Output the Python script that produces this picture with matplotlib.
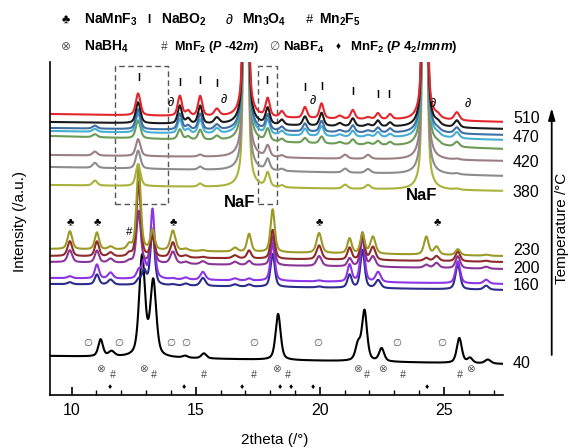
import numpy as np
import matplotlib
matplotlib.use("Agg")
import matplotlib.pyplot as plt
from matplotlib.patches import Rectangle
from matplotlib.ticker import MultipleLocator

plt.rcParams['font.family'] = ['Liberation Sans', 'DejaVu Sans']
plt.rcParams['mathtext.fontset'] = 'custom'
plt.rcParams['mathtext.rm'] = 'Liberation Sans'
plt.rcParams['mathtext.bf'] = 'Liberation Sans:bold'
plt.rcParams['mathtext.it'] = 'Liberation Sans:italic:bold'

# ---- in-situ XRD data (peak tables, offsets in plot units) ----
two_theta_range = (9.13, 27.38)

# high temperature group
hi_temps = [510, 490, 470, 460, 450, 420, 400, 380]
hi_colors = ['#e3262b', '#1a1a1a', '#3f6fa3', '#46aed3', '#6b9b55', '#9c7f85', '#8c8c8c', '#a9b23a']
hi_base_left = [281, 273, 267, 264, 259, 240, 228, 210]
hi_base_right = [273, 266, 260, 255, 246, 234, 219, 204]
hi_pos = [10.94, 12.68, 14.36, 14.69, 15.18, 15.85, 17.02, 17.90, 18.47, 19.40,
          20.07, 20.80, 21.02, 21.33, 21.94, 22.34, 22.83, 24.23, 24.75, 25.52]
hi_wid = [0.11, 0.11, 0.10, 0.10, 0.10, 0.12, 0.08, 0.10, 0.10, 0.10,
          0.10, 0.12, 0.12, 0.10, 0.12, 0.10, 0.10, 0.08, 0.12, 0.12]
hi_heights = [
    [0, 22, 20, 5, 20, 7, 500, 18, 6, 11, 15, 3, 0, 9, 2, 6, 5, 500, 3, 8],
    [0, 21, 18, 5, 18, 6, 500, 16, 5, 9, 13, 3, 0, 8, 2, 6, 4, 500, 3, 7],
    [3, 20, 16, 4, 16, 5, 500, 15, 4, 8, 11, 2, 0, 7, 2, 5, 4, 500, 2, 6],
    [3, 19, 14, 4, 14, 5, 500, 14, 4, 7, 10, 2, 0, 6, 2, 5, 3, 500, 2, 6],
    [3, 18, 10, 3, 10, 4, 500, 12, 3, 5, 7, 2, 0, 5, 2, 4, 3, 500, 2, 5],
    [4, 17, 0, 0, 2, 0, 500, 11, 2, 0, 0, 0, 4, 0, 4, 0, 0, 500, 0, 1],
    [5, 18, 0, 0, 3, 0, 500, 11, 2, 0, 0, 0, 4, 0, 4, 0, 0, 500, 0, 1],
    [5, 22, 0, 0, 3, 0, 500, 14, 2, 0, 0, 0, 4, 0, 4, 0, 0, 500, 0, 1],
]

# intermediate temperature group
mid_temps = [230, 215, 200, 180, 160]
mid_colors = ['#9c9a26', '#8e2a2a', '#8a3596', '#8c35e6', '#2c2c8c']
mid_base_left = [146, 139, 133, 117, 111]
mid_base_right = [139, 133, 126, 111, 105]
mid_pos = [9.93, 11.02, 11.57, 12.32, 12.70, 12.92, 13.26, 14.08, 14.60, 15.29, 16.58,
           17.15, 18.10, 19.97, 21.20, 21.72, 22.14, 22.35, 24.29, 24.70, 25.56, 26.70]
mid_wid = [0.11, 0.10, 0.12, 0.10, 0.10, 0.10, 0.10, 0.12, 0.12, 0.12, 0.12,
           0.10, 0.10, 0.12, 0.10, 0.10, 0.12, 0.12, 0.11, 0.12, 0.11, 0.12]
mid_heights = [
    [18, 17, 3, 5, 85, 0, 20, 20, 2, 1, 4, 18, 43, 20, 15, 20, 17, 0, 18, 8, 6, 1],
    [15, 15, 4, 3, 75, 0, 20, 15, 2, 1, 3, 8, 29, 14, 12, 24, 13, 0, 3, 5, 10, 1],
    [12, 12, 4, 2, 52, 0, 34, 12, 2, 3, 3, 4, 29, 10, 8, 34, 10, 0, 3, 5, 12, 2],
    [2, 14, 6, 0, 8, 17, 70, 1, 2, 8, 2, 2, 38, 1, 17, 46, 0, 10, 0, 0, 22, 4],
    [2, 10, 5, 0, 5, 14, 56, 1, 2, 8, 2, 2, 33, 1, 13, 38, 0, 8, 0, 0, 25, 4],
]

# room temperature pattern (40 C)
rt_base = (39, 31)
rt_pos = [11.17, 11.61, 12.84, 13.29, 14.57, 15.33, 18.32, 21.54, 21.80, 22.49, 25.62, 26.05, 26.77]
rt_ht = [17, 5, 100, 75, 2, 5, 46, 16, 50, 13, 25, 5, 4]
rt_wid = [0.11, 0.14, 0.14, 0.14, 0.12, 0.12, 0.12, 0.12, 0.12, 0.12, 0.12, 0.12, 0.14]

# temperature labels on the right
label_temps = [510, 470, 420, 380, 230, 200, 160, 40]
label_y = [277, 258, 233, 203, 145, 127, 110, 32]

# phase markers (2theta, height)
namnf3_x = [9.93, 11.03, 14.10, 19.98, 24.73]
namnf3_y = 173
mn2f5_x = [12.32]
mn2f5_y = 163
nabo2_x = [12.71, 14.36, 15.17, 15.84, 17.86, 19.40, 20.07, 21.32, 22.34, 22.79]
nabo2_y = [316.7, 312.3, 314.3, 311, 314, 306.7, 308.3, 303.3, 300, 300]
mn3o4_x = [13.99, 16.14, 19.71, 24.54, 25.97]
mn3o4_y = [291.7, 295, 294.3, 291, 291]
nabf4_x = [10.66, 11.90, 14.00, 14.59, 17.32, 19.92, 23.10, 24.90]
nabh4_x = [11.18, 12.91, 18.27, 21.50, 22.53, 26.05]
mnf2_t_x = [11.67, 13.31, 15.33, 17.35, 18.71, 21.88, 23.33, 25.64]
mnf2_r_x = [11.54, 14.54, 16.87, 18.39, 18.84, 19.71, 24.33]

tt = np.linspace(two_theta_range[0], two_theta_range[1], 5000)


def pattern(pos, heights, widths, b0, b1):
    y = b0 + (b1 - b0) * (tt - tt[0]) / (tt[-1] - tt[0])
    for c, h, w in zip(pos, heights, widths):
        if h == 0:
            continue
        d = ((tt - c) / w) ** 2
        y = y + h * (0.5 / (1 + d) + 0.5 * np.exp(-np.log(2) * d))
    return y


fig = plt.figure(figsize=(5.69, 4.48), dpi=100)
ax = fig.add_axes([50 / 569, 53 / 448, 453 / 569, 333 / 448])
ax.set_xlim(*two_theta_range)
ax.set_ylim(0, 333)

lw = 1.5
ax.plot(tt, pattern(rt_pos, rt_ht, rt_wid, *rt_base), color='black', lw=lw)
for i in reversed(range(len(mid_temps))):
    ax.plot(tt, pattern(mid_pos, mid_heights[i], mid_wid, mid_base_left[i], mid_base_right[i]),
            color=mid_colors[i], lw=lw)
for i in reversed(range(len(hi_temps))):
    ax.plot(tt, pattern(hi_pos, hi_heights[i], hi_wid, hi_base_left[i], hi_base_right[i]),
            color=hi_colors[i], lw=lw)

# dashed boxes around the NaBO2 regions
for x0, x1 in [(11.74, 13.89), (17.52, 18.28)]:
    ax.add_patch(Rectangle((x0, 191), x1 - x0, 138, fill=False, ec='#555555',
                           lw=1.0, ls=(0, (4, 2.5))))

ax.text(16.78, 193, 'NaF', fontsize=12, fontweight='bold', ha='center', va='center')
ax.text(24.10, 200, 'NaF', fontsize=12, fontweight='bold', ha='center', va='center')

for x in namnf3_x:
    ax.text(x, namnf3_y, '\u2663', fontsize=8, ha='center', va='center')
for x in mn2f5_x:
    ax.text(x, mn2f5_y, '#', fontsize=8, style='italic', ha='center', va='center')
for x, y in zip(nabo2_x, nabo2_y):
    ax.text(x, y, 'I', fontsize=7.5, fontweight='bold', ha='center', va='center')
for x, y in zip(mn3o4_x, mn3o4_y):
    ax.text(x, y, '\u2202', fontsize=9, style='italic', ha='center', va='center')
for x in nabf4_x:
    ax.text(x, 52, '\u2205', fontsize=7.5, color='#555555', ha='center', va='center')
for x in nabh4_x:
    ax.text(x, 26, '\u2297', fontsize=7.5, color='#555555', ha='center', va='center')
for x in mnf2_t_x:
    ax.text(x, 20, '#', fontsize=7.5, style='italic', color='#444444', ha='center', va='center')
for x in mnf2_r_x:
    ax.text(x, 8, '\u2666', fontsize=6, ha='center', va='center')

for t, y in zip(label_temps, label_y):
    ax.text(27.78, y, str(t), fontsize=11.5, ha='left', va='center', clip_on=False)

for side in ['top', 'right']:
    ax.spines[side].set_visible(False)
for side in ['left', 'bottom']:
    ax.spines[side].set_linewidth(1.2)
ax.set_yticks([])
ax.set_xticks([10, 15, 20, 25])
ax.xaxis.set_minor_locator(MultipleLocator(1))
ax.tick_params(axis='x', which='major', direction='in', length=6, width=1.2,
               labelsize=11.5, pad=6)
ax.tick_params(axis='x', which='minor', direction='in', length=3.5, width=1.0)

fig.text(275 / 569, 1 - 440 / 448, '2theta (/\u00b0)', fontsize=11, ha='center', va='center')
fig.text(20 / 569, 1 - 221 / 448, 'Intensity (/a.u.)', fontsize=11, rotation=90,
         ha='center', va='center')
fig.text(562 / 569, 1 - 228 / 448, 'Temperature /\u00b0C', fontsize=11, rotation=90,
         ha='center', va='center')
ax.annotate('', xy=(551.7 / 569, 1 - 108 / 448), xytext=(551.7 / 569, 1 - 355 / 448),
            xycoords='figure fraction', textcoords='figure fraction',
            arrowprops=dict(arrowstyle='-|>,head_length=0.7,head_width=0.2',
                            lw=1.3, color='black', shrinkA=0, shrinkB=0))


# phase key above the plot
def key(xs, xt, y, sym, label, sym_kw, size=10):
    fig.text(xs / 569, 1 - y / 448, sym, ha='center', va='center', **sym_kw)
    fig.text(xt / 569, 1 - y / 448, label, ha='left', va='center',
             fontsize=size, fontweight='bold')


row1, row2 = 20, 47
key(66, 84, row1, '\u2663', r'NaMnF$_\mathbf{3}$', dict(fontsize=9))
key(149, 161, row1, 'I', r'NaBO$_\mathbf{2}$', dict(fontsize=8.5, fontweight='bold'))
key(229, 242, row1, '\u2202', r'Mn$_\mathbf{3}$O$_\mathbf{4}$', dict(fontsize=10, style='italic'))
key(309, 319, row1, '#', r'Mn$_\mathbf{2}$F$_\mathbf{5}$', dict(fontsize=9, style='italic'))
key(66, 84, row2, '\u2297', r'NaBH$_\mathbf{4}$', dict(fontsize=8.5, color='#555555'))
key(164, 174, row2, '#', r'MnF$_\mathbf{2}$ ($\mathit{P}$ -42$\mathit{m}$)',
    dict(fontsize=8.5, style='italic', color='#444444'), size=9)
key(274, 283, row2, '\u2205', r'NaBF$_\mathbf{4}$', dict(fontsize=8.5, color='#555555'), size=9.5)
key(338, 350, row2, '\u2666', r'MnF$_\mathbf{2}$ ($\mathit{P}$ 4$_\mathbf{2}$/$\mathit{mnm}$)',
    dict(fontsize=7), size=9.5)

fig.savefig('out.png', dpi=100)
